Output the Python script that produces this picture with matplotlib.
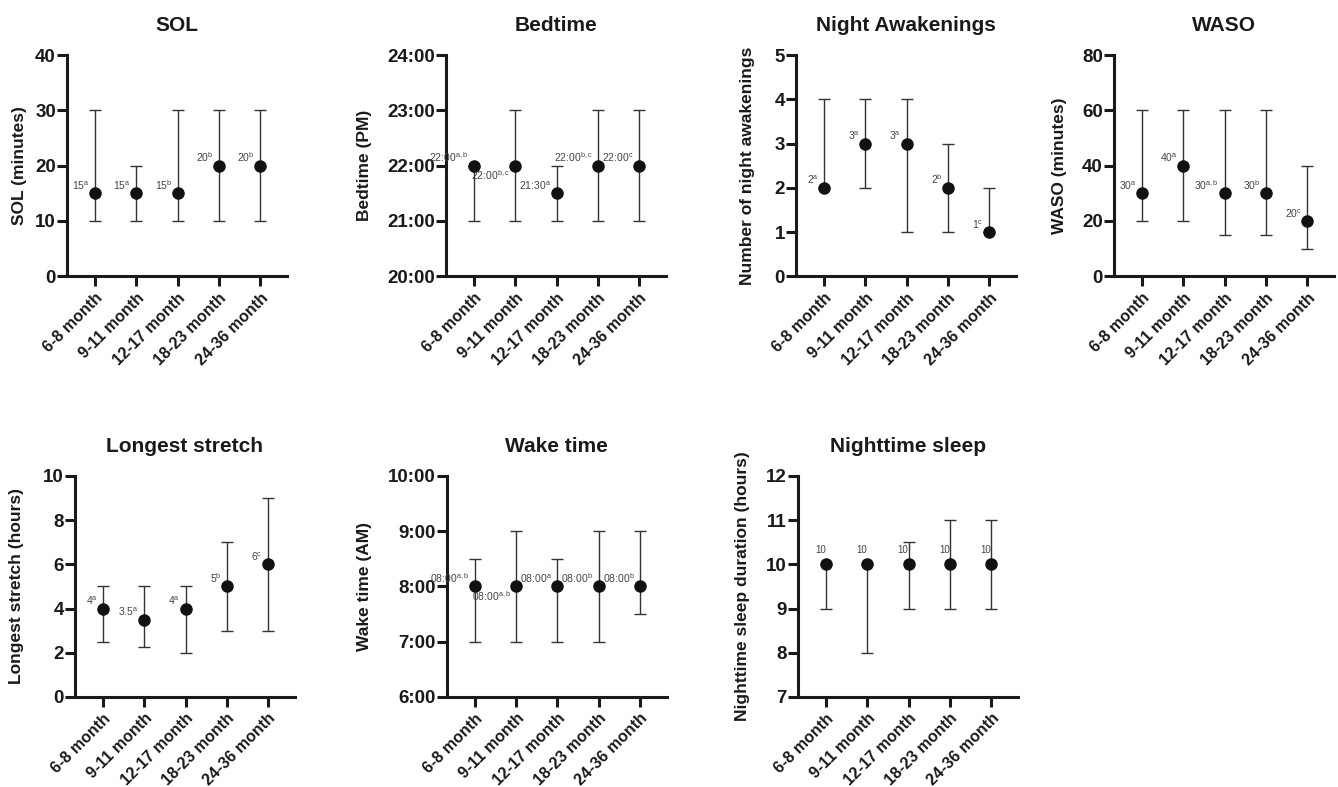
import matplotlib
matplotlib.use("Agg")
import matplotlib.pyplot as plt

plt.rcParams['font.family'] = ['Liberation Sans', 'DejaVu Sans']
plt.rcParams['mathtext.fontset'] = 'custom'
plt.rcParams['mathtext.rm'] = 'Liberation Sans'
plt.rcParams['mathtext.it'] = 'Liberation Sans'

categories = ["6-8 month", "9-11 month", "12-17 month", "18-23 month", "24-36 month"]

sol_med = [15, 15, 15, 20, 20]
sol_low = [10, 10, 10, 10, 10]
sol_high = [30, 20, 30, 30, 30]
sol_lab = ["15", "15", "15", "20", "20"]
sol_sup = ["a", "a", "b", "b", "b"]

bed_med = [22, 22, 21.5, 22, 22]
bed_low = [21, 21, 21, 21, 21]
bed_high = [22, 23, 22, 23, 23]
bed_lab = ["22:00", "22:00", "21:30", "22:00", "22:00"]
bed_sup = ["a,b", "b,c", "a", "b,c", "c"]
bed_ticks = ["20:00", "21:00", "22:00", "23:00", "24:00"]

na_med = [2, 3, 3, 2, 1]
na_low = [2, 2, 1, 1, 1]
na_high = [4, 4, 4, 3, 2]
na_lab = ["2", "3", "3", "2", "1"]
na_sup = ["a", "a", "a", "b", "c"]

waso_med = [30, 40, 30, 30, 20]
waso_low = [20, 20, 15, 15, 10]
waso_high = [60, 60, 60, 60, 40]
waso_lab = ["30", "40", "30", "30", "20"]
waso_sup = ["a", "a", "a,b", "b", "c"]

ls_med = [4, 3.5, 4, 5, 6]
ls_low = [2.5, 2.25, 2, 3, 3]
ls_high = [5, 5, 5, 7, 9]
ls_lab = ["4", "3.5", "4", "5", "6"]
ls_sup = ["a", "a", "a", "b", "c"]

wake_med = [8, 8, 8, 8, 8]
wake_low = [7, 7, 7, 7, 7.5]
wake_high = [8.5, 9, 8.5, 9, 9]
wake_lab = ["08:00", "08:00", "08:00", "08:00", "08:00"]
wake_sup = ["a,b", "a,b", "a", "b", "b"]
wake_ticks = ["6:00", "7:00", "8:00", "9:00", "10:00"]

nts_med = [10, 10, 10, 10, 10]
nts_low = [9, 8, 9, 9, 9]
nts_high = [10, 10, 10.5, 11, 11]
nts_lab = ["10", "10", "10", "10", "10"]

fig = plt.figure(figsize=(13.38, 7.87), dpi=100)

W = 0.1644
H = 0.281
panels = [
    dict(pos=[0.0501, 0.649], title="SOL", ylabel="SOL (minutes)", med=sol_med, low=sol_low, high=sol_high,
         lab=sol_lab, sup=sol_sup, ylim=(0, 40), yt=[0, 10, 20, 30, 40], ytl=None, below=[], lx=-40),
    dict(pos=[0.3333, 0.649], title="Bedtime", ylabel="Bedtime (PM)", med=bed_med, low=bed_low, high=bed_high,
         lab=bed_lab, sup=bed_sup, ylim=(20, 24), yt=[20, 21, 22, 23, 24], ytl=bed_ticks, below=[1], lx=-74),
    dict(pos=[0.595, 0.649], title="Night Awakenings", ylabel="Number of night awakenings", med=na_med, low=na_low,
         high=na_high, lab=na_lab, sup=na_sup, ylim=(0, 5), yt=[0, 1, 2, 3, 4, 5], ytl=None, below=[], lx=-41),
    dict(pos=[0.8326, 0.649], title="WASO", ylabel="WASO (minutes)", med=waso_med, low=waso_low, high=waso_high,
         lab=waso_lab, sup=waso_sup, ylim=(0, 80), yt=[0, 20, 40, 60, 80], ytl=None, below=[], lx=-47),
    dict(pos=[0.056, 0.1144], title="Longest stretch", ylabel="Longest stretch (hours)", med=ls_med, low=ls_low,
         high=ls_high, lab=ls_lab, sup=ls_sup, ylim=(0, 10), yt=[0, 2, 4, 6, 8, 10], ytl=None, below=[], lx=-51),
    dict(pos=[0.334, 0.1144], title="Wake time", ylabel="Wake time (AM)", med=wake_med, low=wake_low,
         high=wake_high, lab=wake_lab, sup=wake_sup, ylim=(6, 10), yt=[6, 7, 8, 9, 10], ytl=wake_ticks, below=[1], lx=-75),
    dict(pos=[0.5964, 0.1144], title="Nighttime sleep", ylabel="Nighttime sleep duration (hours)", med=nts_med,
         low=nts_low, high=nts_high, lab=nts_lab, sup=None, ylim=(7, 12), yt=[7, 8, 9, 10, 11, 12], ytl=None, below=[], lx=-48),
]

AXW_PX = W * 1338

x = list(range(len(categories)))
for p in panels:
    ax = fig.add_axes([p['pos'][0], p['pos'][1], W, H])
    med, low, high = p['med'], p['low'], p['high']
    yerr = [[m - l for m, l in zip(med, low)], [h - m for h, m in zip(high, med)]]
    ax.errorbar(x, med, yerr=yerr, fmt='o', color='#111111', ecolor='#333333', elinewidth=1.0,
                capsize=4, capthick=1.0, markersize=8, zorder=3)
    ax.set_xlim(-0.68, 4.65)
    ax.set_ylim(*p['ylim'])
    ax.set_yticks(p['yt'])
    if p['ytl'] is not None:
        ax.set_yticklabels(p['ytl'])
    ax.set_xticks(x)
    ax.set_xticklabels(categories, rotation=45, ha='right', rotation_mode='anchor')
    for s in ['top', 'right']:
        ax.spines[s].set_visible(False)
    for s in ['left', 'bottom']:
        ax.spines[s].set_linewidth(2.2)
        ax.spines[s].set_color('#1a1a1a')
    ax.tick_params(axis='both', width=2.2, length=7, color='#1a1a1a', direction='out')
    ax.tick_params(axis='y', labelsize=13.5, pad=1)
    ax.tick_params(axis='x', labelsize=11.5, pad=3)
    for lbl in ax.get_xticklabels() + ax.get_yticklabels():
        lbl.set_fontweight('bold')
        lbl.set_color('#1a1a1a')
    ax.set_title(p['title'], fontsize=15, fontweight='bold', pad=17, color='#1a1a1a')
    ax.set_ylabel(p['ylabel'], fontsize=12.5, fontweight='bold', color='#1a1a1a')
    ax.yaxis.set_label_coords(p['lx'] / AXW_PX, 0.5)
    for i in x:
        if p['sup'] is None:
            ax.annotate(p['lab'][i], (i, med[i]), xytext=(-4, 7), textcoords='offset points',
                        ha='center', va='bottom', fontsize=7, color='#444444')
        else:
            txt = p['lab'][i] + r'$^{\mathregular{' + p['sup'][i] + '}}$'
            if i in p['below']:
                ax.annotate(txt, (i, med[i]), xytext=(-4, -2), textcoords='offset points',
                            ha='right', va='top', fontsize=7.5, color='#444444')
            else:
                ax.annotate(txt, (i, med[i]), xytext=(-4, 1), textcoords='offset points',
                            ha='right', va='bottom', fontsize=7.5, color='#444444')

fig.savefig("out.png", dpi=100)
